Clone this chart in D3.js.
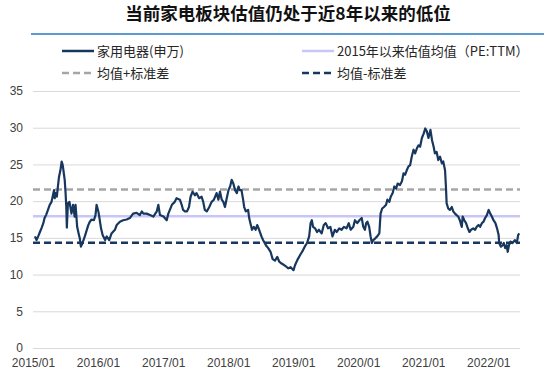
<!DOCTYPE html>
<html>
<head>
<meta charset="utf-8">
<script src="https://cdn.jsdelivr.net/npm/d3@7"></script>
<style>
  body { margin: 0; background: #fff; }
  svg { display: block; }
</style>
</head>
<body>
<svg id="chart"></svg>
<script>
// PE(TTM) of 家用电器(申万)
const dates = [
  '2015-01-12','2015-01-21','2015-01-30','2015-02-09','2015-02-19','2015-02-28','2015-03-07','2015-03-17','2015-03-26','2015-04-05',
  '2015-04-15','2015-04-23','2015-04-29','2015-05-03','2015-05-08','2015-05-15','2015-05-21','2015-05-27','2015-06-04','2015-06-11',
  '2015-06-17','2015-06-23','2015-06-28','2015-07-03','2015-07-07','2015-07-10','2015-07-16','2015-07-25','2015-08-05','2015-08-14',
  '2015-08-23','2015-08-28','2015-09-06','2015-09-16','2015-09-21','2015-09-27','2015-10-06','2015-10-19','2015-11-07','2015-11-16',
  '2015-11-26','2015-12-09','2015-12-18','2015-12-24','2016-01-03','2016-01-08','2016-01-18','2016-01-27','2016-02-10','2016-02-19',
  '2016-03-04','2016-03-17','2016-04-05','2016-04-15','2016-05-03','2016-05-21','2016-06-10','2016-06-28','2016-07-16','2016-08-05',
  '2016-08-23','2016-09-03','2016-09-12','2016-09-30','2016-10-19','2016-11-07','2016-11-26','2016-12-05','2016-12-14','2017-01-03',
  '2017-01-21','2017-01-30','2017-02-19','2017-03-07','2017-03-17','2017-04-05','2017-04-15','2017-04-23','2017-05-03','2017-05-15',
  '2017-05-26','2017-06-04','2017-06-15','2017-06-28','2017-07-07','2017-07-22','2017-08-05','2017-08-14','2017-08-23','2017-09-03',
  '2017-09-17','2017-09-30','2017-10-13','2017-10-28','2017-11-07','2017-11-16','2017-11-26','2017-12-05','2017-12-14','2017-12-24',
  '2018-01-03','2018-01-12','2018-01-21','2018-01-30','2018-02-09','2018-02-19','2018-02-28','2018-03-07','2018-03-17','2018-03-26',
  '2018-04-01','2018-04-10','2018-04-23','2018-04-29','2018-05-06','2018-05-15','2018-05-25','2018-06-04','2018-06-13','2018-06-24',
  '2018-07-07','2018-07-16','2018-08-01','2018-08-14','2018-08-27','2018-09-08','2018-09-21','2018-10-04','2018-10-15','2018-10-28',
  '2018-11-11','2018-11-22','2018-12-05','2018-12-18','2019-01-03','2019-01-12','2019-01-25','2019-02-10','2019-02-25','2019-03-07',
  '2019-03-20','2019-04-01','2019-04-09','2019-04-16','2019-04-23','2019-05-04','2019-05-15','2019-05-26','2019-06-10','2019-06-22',
  '2019-07-03','2019-07-16','2019-07-29','2019-08-10','2019-08-23','2019-09-03','2019-09-17','2019-09-30','2019-10-13','2019-10-28',
  '2019-11-09','2019-11-20','2019-12-05','2019-12-14','2019-12-27','2020-01-08','2020-01-21','2020-01-30','2020-02-08','2020-02-15',
  '2020-02-22','2020-03-03','2020-03-11','2020-03-18','2020-03-26','2020-04-05','2020-04-17','2020-04-29','2020-05-06','2020-05-15',
  '2020-05-25','2020-06-06','2020-06-13','2020-06-24','2020-07-02','2020-07-13','2020-07-22','2020-08-01','2020-08-10','2020-08-23',
  '2020-09-03','2020-09-12','2020-09-21','2020-09-30','2020-10-09','2020-10-19','2020-10-28','2020-11-07','2020-11-16','2020-11-26',
  '2020-12-05','2020-12-14','2020-12-24','2021-01-03','2021-01-12','2021-01-21','2021-01-30','2021-02-10','2021-02-19','2021-02-28',
  '2021-03-07','2021-03-17','2021-03-26','2021-04-05','2021-04-15','2021-04-23','2021-05-03','2021-05-08','2021-05-12','2021-05-21',
  '2021-05-30','2021-06-10','2021-06-18','2021-06-28','2021-07-07','2021-07-16','2021-07-25','2021-08-05','2021-08-10','2021-08-19',
  '2021-08-29','2021-09-08','2021-09-17','2021-09-26','2021-10-09','2021-10-19','2021-10-28','2021-11-07','2021-11-16','2021-11-26',
  '2021-12-05','2021-12-14','2021-12-24','2022-01-03','2022-01-12','2022-01-21','2022-01-30','2022-02-10','2022-02-19','2022-02-28',
  '2022-03-03','2022-03-13','2022-03-22','2022-03-29','2022-04-06','2022-04-14','2022-04-20','2022-04-27','2022-05-06','2022-05-17',
  '2022-05-30','2022-06-10','2022-06-18','2022-06-24'
];
const values = [
  15.2,14.7,15.2,15.8,16.4,17.0,17.7,18.2,18.8,19.5,
  19.9,20.8,21.5,20.4,21.1,20.6,22.0,23.3,24.2,25.4,
  24.9,23.8,22.9,21.1,19.2,16.4,19.7,19.9,18.3,19.5,
  17.9,19.5,16.5,15.4,14.9,13.8,14.3,15.2,16.7,17.2,
  17.5,17.4,18.1,19.5,18.6,17.9,16.3,15.4,14.7,15.2,
  14.7,15.6,16.1,16.75,17.2,17.4,17.5,17.7,18.3,18.4,
  18.1,18.6,18.3,18.3,18.1,17.9,18.6,19.5,18.1,17.9,
  17.4,18.3,19.5,19.9,20.4,20.2,19.5,18.8,18.6,18.6,
  19.2,20.6,21.3,20.8,21.1,20.4,20.6,19.9,18.8,18.6,
  19.2,19.9,20.2,21.1,20.2,21.3,20.2,19.9,19.2,20.4,
  21.5,22.0,22.9,22.4,21.5,21.1,22.0,21.5,21.5,20.2,
  19.2,18.6,18.8,17.7,17.0,16.1,16.5,16.1,16.75,16.1,
  15.2,14.7,14.0,13.6,13.1,12.1,11.9,12.4,11.75,11.5,
  11.3,11.1,10.85,11.0,10.6,11.3,12.0,12.7,13.3,13.8,
  14.3,15.2,17.0,17.4,16.5,16.3,15.8,16.1,15.6,16.75,
  17.0,16.3,16.5,15.2,16.1,15.8,16.3,16.1,16.5,16.3,
  17.0,16.1,16.5,17.4,17.0,17.4,17.7,16.5,16.1,17.0,
  17.2,16.5,15.2,14.3,14.7,14.9,15.2,15.6,18.3,19.0,
  19.2,19.5,20.2,19.9,20.6,21.1,22.0,21.7,22.4,22.2,
  22.7,23.8,23.6,24.2,24.7,24.9,26.05,27.0,26.5,27.2,
  27.6,27.4,28.6,29.2,29.9,29.5,28.6,29.7,28.3,27.4,
  26.5,26.7,25.6,26.05,25.15,25.4,24.2,22.0,19.7,19.0,
  18.8,19.2,18.6,18.3,18.1,17.9,17.4,16.5,17.9,17.4,
  17.0,16.3,15.8,16.1,16.3,16.1,16.5,16.75,16.5,17.0,
  17.2,17.7,18.1,18.8,18.3,17.9,17.4,17.0,16.3,15.4,
  14.3,13.8,14.0,14.3,13.6,14.0,13.1,14.0,14.5,14.3,
  14.7,14.3,15.4,15.6
];

// reference levels since 2015
const meanPE = 17.95;
const upperBand = 21.6;   // 均值+标准差
const lowerBand = 14.35;  // 均值-标准差

const yTicks = [0, 5, 10, 15, 20, 25, 30, 35];
const xTickDates = ['2015-01-01','2016-01-01','2017-01-01','2018-01-01','2019-01-01','2020-01-01','2021-01-01','2022-01-01'];
const xDomain = ['2015-01-01', '2022-06-28'];

const titleText = '当前家电板块估值仍处于近8年以来的低位';
const legendLabels = ['家用电器(申万)', '2015年以来估值均值（PE:TTM）', '均值+标准差', '均值-标准差'];

const width = 550;
const height = 376;
const margin = { top: 91, right: 30, bottom: 28, left: 33 };

const navy = '#17375e';
const lavender = '#c8c6f7';
const grey = '#a6a6a6';
const cjk = '"Noto Sans CJK SC", "Noto Sans", sans-serif';
const latin = '"Liberation Sans", Arial, sans-serif';

const svg = d3.select('#chart').attr('width', width).attr('height', height);
const parse = d3.timeParse('%Y-%m-%d');
const series = dates.map((d, i) => ({ date: parse(d), value: values[i] }));

const x = d3.scaleTime()
  .domain(xDomain.map(parse))
  .range([margin.left, width - margin.right]);
const y = d3.scaleLinear()
  .domain([0, 35])
  .range([height - margin.bottom, margin.top]);

// title and the blue rule under it
svg.append('text')
  .text(titleText)
  .attr('x', 288)
  .attr('y', 20)
  .attr('text-anchor', 'middle')
  .style('font-family', cjk)
  .style('font-weight', 'bold')
  .style('font-size', '17.5px')
  .style('fill', '#111');

svg.append('line')
  .attr('x1', 31).attr('x2', 544)
  .attr('y1', 34).attr('y2', 34)
  .attr('stroke', '#5b9bd5')
  .attr('stroke-width', 2);

// legend
const legendItems = [
  { label: legendLabels[0], color: navy, dash: null, x: 62, y: 51 },
  { label: legendLabels[1], color: lavender, dash: null, x: 302, y: 51 },
  { label: legendLabels[2], color: grey, dash: '7,4', x: 62, y: 73 },
  { label: legendLabels[3], color: navy, dash: '7,4', x: 302, y: 73 }
];
const legend = svg.append('g');
legendItems.forEach((d) => {
  legend.append('line')
    .attr('x1', d.x).attr('x2', d.x + 32)
    .attr('y1', d.y).attr('y2', d.y)
    .attr('stroke', d.color)
    .attr('stroke-width', 2.5)
    .attr('stroke-dasharray', d.dash);
  legend.append('text')
    .text(d.label)
    .attr('x', d.x + 35)
    .attr('y', d.y)
    .attr('dy', '0.35em')
    .style('font-family', cjk)
    .style('font-size', '13px')
    .style('fill', '#262626');
});

// y axis: gridlines + labels, no domain line
const yAxis = svg.append('g')
  .attr('transform', `translate(${margin.left},0)`)
  .call(d3.axisLeft(y).tickValues(yTicks).tickSize(-(width - margin.left - margin.right)).tickPadding(10));
yAxis.select('.domain').remove();
yAxis.selectAll('.tick line').attr('stroke', '#d9d9d9').attr('stroke-width', 1);
yAxis.selectAll('.tick text')
  .style('font-family', latin)
  .style('font-size', '12px')
  .style('fill', '#404040');

// x axis labels
const xAxis = svg.append('g')
  .attr('transform', `translate(0,${height - margin.bottom})`)
  .call(d3.axisBottom(x).tickValues(xTickDates.map(parse)).tickFormat(d3.timeFormat('%Y/%m')).tickSize(0).tickPadding(10));
xAxis.select('.domain').remove();
xAxis.selectAll('.tick text')
  .style('font-family', latin)
  .style('font-size', '12px')
  .style('fill', '#404040');

// reference lines
const refLines = [
  { value: meanPE, color: lavender, dash: null },
  { value: upperBand, color: grey, dash: '7,4' },
  { value: lowerBand, color: navy, dash: '7,4' }
];
svg.append('g').selectAll('line')
  .data(refLines)
  .enter()
  .append('line')
  .attr('x1', x.range()[0])
  .attr('x2', x.range()[1])
  .attr('y1', (d) => y(d.value))
  .attr('y2', (d) => y(d.value))
  .attr('stroke', (d) => d.color)
  .attr('stroke-width', 2.5)
  .attr('stroke-dasharray', (d) => d.dash);

// PE line
const line = d3.line()
  .x((d) => x(d.date))
  .y((d) => y(d.value));

svg.append('path')
  .datum(series)
  .attr('d', line)
  .attr('fill', 'none')
  .attr('stroke', navy)
  .attr('stroke-width', 2.2)
  .attr('stroke-linejoin', 'round');
</script>
</body>
</html>
